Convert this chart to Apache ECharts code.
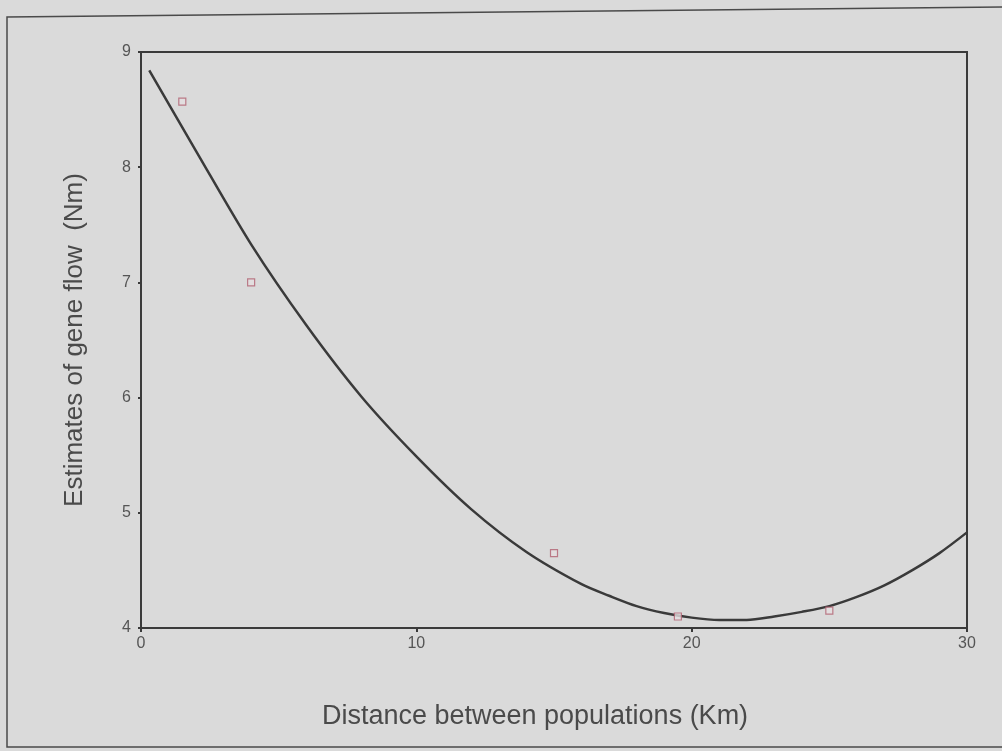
<!DOCTYPE html>
<html>
<head>
<meta charset="utf-8">
<script src="https://cdn.jsdelivr.net/npm/echarts@6/dist/echarts.min.js"></script>
<style>
  html, body { margin: 0; padding: 0; background: #dadada; }
  #chart { width: 1002px; height: 751px; }
</style>
</head>
<body>
<div id="chart"></div>
<script>
// observed estimates (distance in km, Nm)
const obsDistance = [1.5, 4.0, 15.0, 19.5, 25.0];
const obsNm = [8.57, 7.0, 4.65, 4.10, 4.15];

// fitted curve
const fitDistance = [0.3, 2, 4, 6, 8, 10, 12, 14, 16, 17, 18, 19, 20, 21, 22, 23, 24, 25, 26, 27, 28, 29, 30];
const fitNm = [8.84, 8.14, 7.33, 6.63, 6.01, 5.49, 5.03, 4.66, 4.38, 4.28, 4.19, 4.13, 4.09, 4.07, 4.07, 4.10, 4.14, 4.19, 4.27, 4.37, 4.50, 4.65, 4.83];

const chart = echarts.init(document.getElementById("chart"), null, { renderer: "canvas" });

const labelFont = "'Liberation Sans', Arial, sans-serif";

chart.setOption({
  backgroundColor: "#dadada",
  animation: false,
  grid: {
    left: 141,
    right: 35,
    top: 52,
    bottom: 123,
    show: true,
    borderColor: "#3a3a3a",
    borderWidth: 2,
    backgroundColor: "transparent",
  },
  xAxis: {
    type: "value",
    min: 0,
    max: 30,
    interval: 10,
    name: "Distance between populations (Km)",
    nameLocation: "middle",
    nameGap: 75,
    nameTextStyle: {
      color: "#4a4a4a",
      fontSize: 27,
      fontFamily: labelFont,
      padding: [0, 38, 0, 0],
    },
    axisLine: { show: true, lineStyle: { color: "#3a3a3a", width: 2 } },
    axisTick: { show: true, length: 4, lineStyle: { color: "#3a3a3a", width: 2 } },
    axisLabel: { color: "#555", fontSize: 16, fontFamily: labelFont, margin: 8 },
    splitLine: { show: false },
  },
  yAxis: {
    type: "value",
    min: 4,
    max: 9,
    interval: 1,
    name: "Estimates of gene flow  (Nm)",
    nameLocation: "middle",
    nameGap: 53,
    nameTextStyle: { color: "#4a4a4a", fontSize: 26, fontFamily: labelFont },
    axisLine: { show: true, lineStyle: { color: "#3a3a3a", width: 2 } },
    axisTick: { show: true, length: 3, lineStyle: { color: "#3a3a3a", width: 2 } },
    axisLabel: { color: "#555", fontSize: 16, fontFamily: labelFont, margin: 10 },
    splitLine: { show: false },
  },
  graphic: [
    {
      type: "polyline",
      silent: true,
      shape: { points: [[1002, 7], [7, 17], [7, 747], [1002, 747]] },
      style: { stroke: "#4a4a4a", lineWidth: 1.5, fill: null },
    },
  ],
  series: [
    {
      type: "line",
      data: fitDistance.map((d, i) => [d, fitNm[i]]),
      smooth: 0.3,
      showSymbol: false,
      lineStyle: { color: "#3a3a3a", width: 2.5 },
      z: 2,
    },
    {
      type: "scatter",
      data: obsDistance.map((d, i) => [d, obsNm[i]]),
      symbol: "rect",
      symbolSize: 7,
      itemStyle: { color: "#e4dfe0", borderColor: "#b06070", borderWidth: 1.2 },
      z: 3,
    },
  ],
});
</script>
</body>
</html>
